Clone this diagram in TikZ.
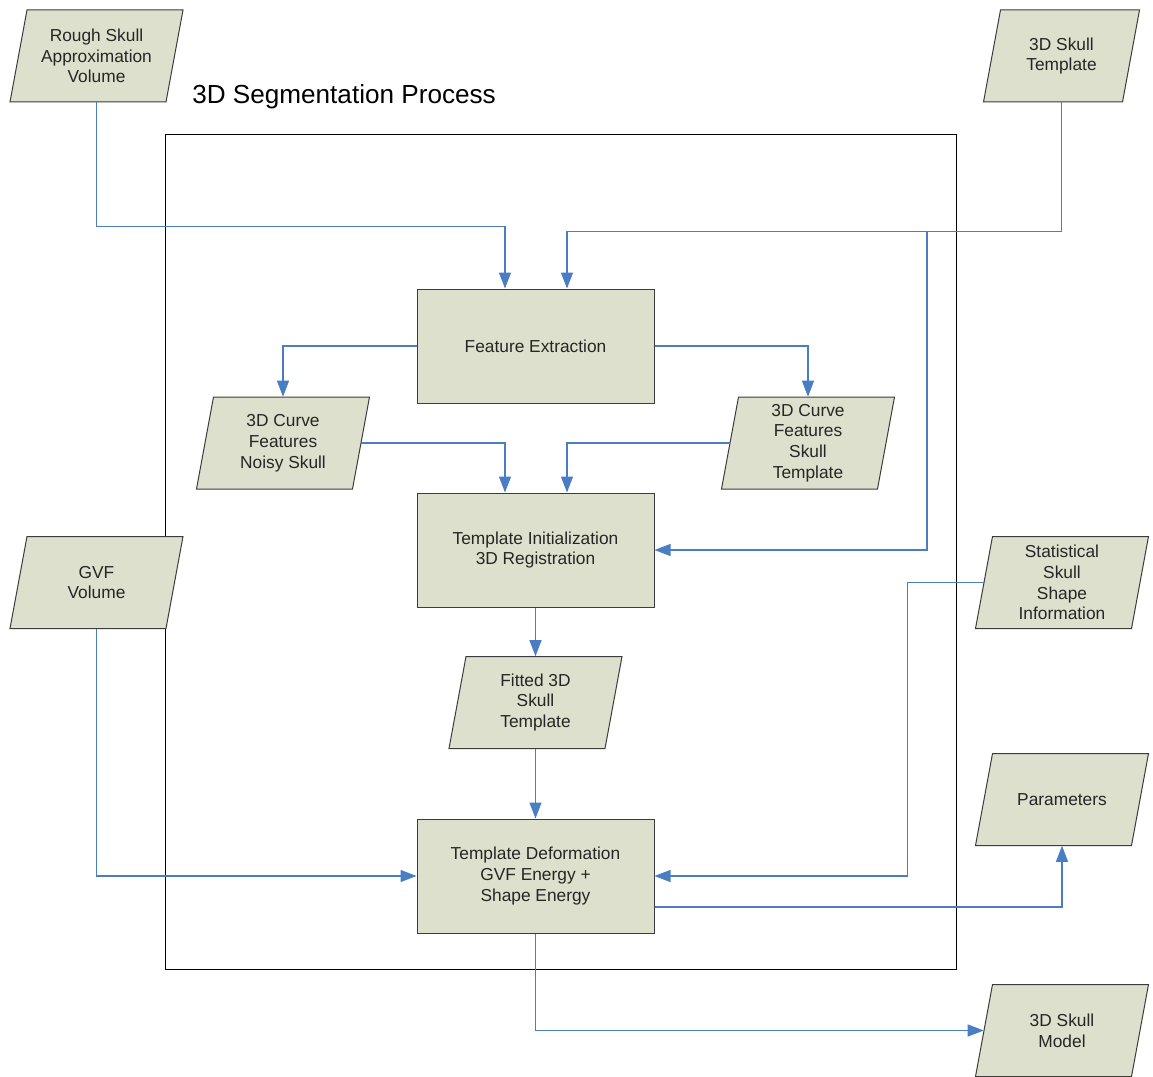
\documentclass[tikz,border=0pt]{standalone}
\usepackage{fontspec}
\setmainfont{Liberation Sans}
\usetikzlibrary{calc,arrows.meta}
\definecolor{boxfill}{RGB}{221,224,204}
\definecolor{boxline}{RGB}{60,60,60}
\definecolor{conncol}{RGB}{74,126,196}
\tikzset{
  txt/.style={font=\fontsize{13pt}{15.6pt}\selectfont, align=center, text=black!85, inner sep=0pt},
  pgmnode/.style={txt, minimum height=69pt},
  procbox/.style={txt, draw=boxline, line width=0.75pt, fill=boxfill, minimum width=177.75pt, minimum height=85.5pt},
  conn/.style={draw=conncol, line width=0.8pt, -{Triangle[length=12pt,width=9pt]}},
}
% #1 width(px), #2 name, #3 cx, #4 cy, #5 text
\newcommand\pgm[5][156]{%
  \filldraw[fill=boxfill, draw=boxline, line width=0.75pt]
    ({#3-#1/2+8.5},{#4-46}) -- ({#3+#1/2+8.5},{#4-46}) --
    ({#3+#1/2-8.5},{#4+46}) -- ({#3-#1/2-8.5},{#4+46}) -- cycle;
  \node[pgmnode, minimum width=#1*0.75pt] (#2) at (#3,#4) {#5};
}
\begin{document}
\begin{tikzpicture}[x=0.75pt,y=-0.75pt]
\useasboundingbox[fill=white] (0,0) rectangle (1153,1077);
% frame
\draw[black, line width=0.6pt] (165,134) rectangle (956,969);
\node[anchor=base west, font=\fontsize{19.6pt}{23pt}\selectfont, inner sep=0pt] (title) at (192,104) {3D Segmentation Process};
% inputs / outputs
\pgm{rough}{96.5}{56}{Rough Skull\\Approximation\\Volume}
\pgm[139]{skt}{1061.5}{56}{3D Skull\\Template}
\pgm{gvf}{96.5}{582.5}{GVF\\Volume}
\pgm{stat}{1062}{582.5}{Statistical\\Skull\\Shape\\Information}
\pgm{param}{1062}{799.5}{Parameters}
\pgm{model}{1062}{1030.5}{3D Skull\\Model}
\pgm{noisy}{283}{443}{3D Curve\\Features\\Noisy Skull}
\pgm{ctpl}{808}{443}{3D Curve\\Features\\Skull\\Template}
\pgm{fit}{535.5}{702.5}{Fitted 3D\\Skull\\Template}
% process boxes
\node[procbox] (fe) at (535.5,346) {Feature Extraction};
\node[procbox] (ti) at (535.5,550) {Template Initialization\\3D Registration};
\node[procbox] (td) at (535.5,876) {Template Deformation\\GVF Energy +\\Shape Energy};
% connectors
\draw[conn] (rough.south) |- ($(fe.north)+(-30.5,-62)$) -- ($(fe.north)+(-30.5,0)$);
\draw[conn] (skt.south) |- ($(fe.north)+(31.5,-57)$) -- ($(fe.north)+(31.5,0)$);
\coordinate (br) at (927,232);
\draw[conn] (br) |- (ti.east);
\draw[conn] (fe.west) -| (noisy.north);
\draw[conn] (fe.east) -| (ctpl.north);
\draw[conn] (noisy.east) -| ($(ti.north)+(-30.5,0)$);
\draw[conn] (ctpl.west) -| ($(ti.north)+(31.5,0)$);
\draw[conn] (ti.south) -- (fit.north);
\draw[conn] (fit.south) -- (td.north);
\draw[conn] (gvf.south) |- (td.west);
\draw[conn] (stat.west) -| ($(td.east)+(253,0)$) -- (td.east);
\draw[conn] ($(td.east)+(0,31)$) -| (param.south);
\draw[conn] (td.south) |- (model.west);
\end{tikzpicture}
\end{document}
